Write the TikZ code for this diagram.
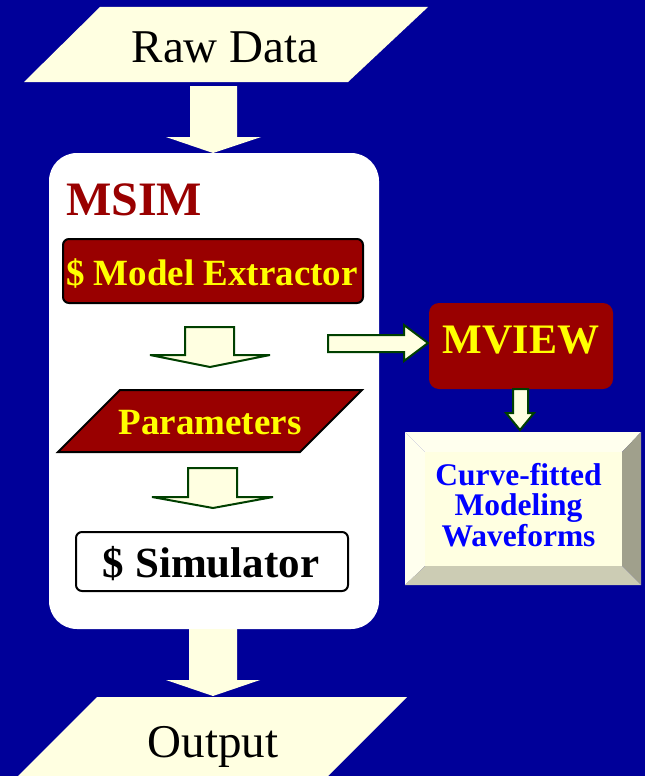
\documentclass[tikz,border=0pt]{standalone}
\usepackage{fontspec}
\setmainfont{Liberation Serif}
\definecolor{bg}{RGB}{0,0,153}
\definecolor{cream}{RGB}{255,255,225}
\definecolor{creamlight}{RGB}{255,255,238}
\definecolor{darkred}{RGB}{153,0,0}
\definecolor{yel}{RGB}{255,255,0}
\definecolor{agreen}{RGB}{0,64,0}
\definecolor{bevelright}{RGB}{160,160,140}
\definecolor{bevelbottom}{RGB}{204,204,180}
\definecolor{bluetext}{RGB}{0,0,255}
\begin{document}
\begin{tikzpicture}[x=1pt,y=-1pt,
  solidarrow/.style={fill=cream},
  hollowarrow/.style={fill=cream,draw=agreen,line width=2pt,line join=miter},
  redbox/.style={fill=darkred,draw=black,line width=2pt,rounded corners=6pt},
  plaintext/.style={inner sep=0pt,font=\fontsize{47}{56}\selectfont},
  yeltext/.style={inner sep=0pt,text=yel,font=\bfseries\fontsize{37}{44}\selectfont}]
\useasboundingbox (0,0) rectangle (645,776);
\fill[bg] (0,0) rectangle (645,776);
% Raw data
\fill[cream] (100,7) -- (428,7) -- (348,82) -- (24,82) -- cycle;
\node[plaintext,anchor=base] (raw) at (225,63) {Raw Data};
\fill[solidarrow] (190,86) -- (237,86) -- (237,137) -- (261,137) -- (213,153) -- (166,137) -- (190,137) -- cycle;
% MSIM container
\fill[white,rounded corners=28pt] (49,153) rectangle (379,629);
\node[inner sep=0pt,anchor=base west,text=darkred,font=\bfseries\fontsize{48}{56}\selectfont] (msim) at (66,215) {MSIM};
% Model extractor
\draw[redbox] (63,239) rectangle (363,303);
\node[yeltext,anchor=base] (extr) at (212,285) {\$ Model Extractor};
\draw[hollowarrow] (185,327) -- (234,327) -- (234,355) -- (270,355) -- (210,367) -- (150,355) -- (185,355) -- cycle;
% Parameters
\draw[fill=darkred,draw=black,line width=2pt,line join=miter] (120,390) -- (362,390) -- (300,452) -- (58,452) -- cycle;
\node[yeltext,anchor=base] (param) at (210,434) {Parameters};
\draw[hollowarrow] (188,468) -- (237,468) -- (237,497) -- (273,497) -- (213,508) -- (152,497) -- (188,497) -- cycle;
% Simulator
\draw[fill=white,draw=black,line width=2pt,rounded corners=6pt] (76,532) rectangle (348,591);
\node[inner sep=0pt,anchor=base,font=\bfseries\fontsize{43}{50}\selectfont] (sim) at (211,577) {\$ Simulator};
% Output
\fill[solidarrow] (189,629) -- (237,629) -- (237,680) -- (260,680) -- (213,696) -- (166,680) -- (189,680) -- cycle;
\fill[cream] (97,697) -- (407,697) -- (324,780) -- (14,780) -- cycle;
\node[plaintext,anchor=base] (out) at (213,757) {Output};
% Arrow to MVIEW
\draw[hollowarrow] (328,335) -- (404,335) -- (404,325) -- (428,343) -- (404,361) -- (404,352) -- (328,352) -- cycle;
% MVIEW
\fill[darkred,rounded corners=10pt] (429,303) rectangle (613,389);
\node[inner sep=0pt,anchor=base,text=yel,font=\bfseries\fontsize{42}{50}\selectfont] (mview) at (521,353) {MVIEW};
\draw[hollowarrow] (513,389) -- (528,389) -- (528,413) -- (534,413) -- (520,430) -- (506,413) -- (513,413) -- cycle;
% Bevel box
\fill[creamlight] (405,432) -- (641,432) -- (622,452) -- (425,452) -- cycle;
\fill[creamlight] (405,432) -- (425,452) -- (425,566) -- (405,585) -- cycle;
\fill[bevelright] (641,432) -- (641,585) -- (622,566) -- (622,452) -- cycle;
\fill[bevelbottom] (405,585) -- (641,585) -- (622,566) -- (425,566) -- cycle;
\fill[cream] (425,452) rectangle (622,566);
\node[inner sep=0pt,align=center,text=bluetext,font=\bfseries\fontsize{31.5}{30.5}\selectfont] (curve) at (518.5,505) {Curve-fitted\\Modeling\\Waveforms};
\end{tikzpicture}
\end{document}
